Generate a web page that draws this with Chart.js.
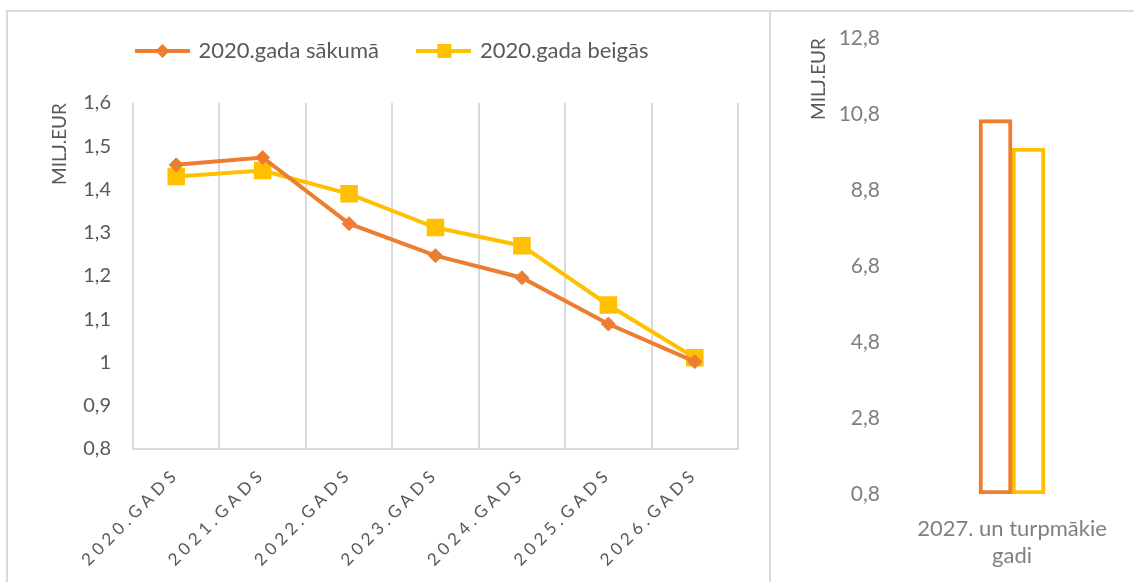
<!DOCTYPE html>
<html lang="lv">

<head>
  <meta charset="UTF-8" />
  <title>Prognoze 2020-2027</title>
  <script src="https://cdn.jsdelivr.net/npm/chart.js"></script>
  <style>
    body {
      margin: 0;
      background: #fff;
    }

    #kreisais {
      position: absolute;
      left: 6px;
      top: 10px;
      width: 765px;
      height: 572px;
      box-sizing: border-box;
      border-left: 2px solid #d9d9d9;
      border-top: 2px solid #d9d9d9;
      border-right: 2px solid #d9d9d9;
    }

    #labais {
      position: absolute;
      left: 771px;
      top: 10px;
      width: 363px;
      height: 572px;
      box-sizing: border-box;
      border-top: 2px solid #d9d9d9;
    }

    canvas {
      display: block;
    }
  </style>
</head>

<body>
  <div id="kreisais"><canvas id="gadiChart" width="761" height="570"></canvas></div>
  <div id="labais"><canvas id="turpmakChart" width="363" height="570"></canvas></div>

  <script>
    // Dati
    const gadi = ["2020.GADS", "2021.GADS", "2022.GADS", "2023.GADS", "2024.GADS", "2025.GADS", "2026.GADS"];
    const sakuma = [1.457, 1.474, 1.321, 1.247, 1.196, 1.089, 1.002];
    const beigas = [1.430, 1.444, 1.390, 1.312, 1.270, 1.133, 1.011];
    const serijas = ["2020.gada sākumā", "2020.gada beigās"];

    const turpmakGadi = [["2027. un turpmākie", "gadi"]];
    const turpmakSakuma = [10.65];
    const turpmakBeigas = [9.9];

    const oranzs = "#ED7D31";
    const dzeltens = "#FFC000";
    const teksts = "#595959";
    const gaisaks = "#7f7f7f";
    const pelekais = "#d9d9d9";

    Chart.defaults.font.family = "Lato, 'Open Sans', sans-serif";

    // 1,6 / 1 / 0,9 ...
    const komats = v => String(Number(v.toFixed(1))).replace(".", ",");

    // leģendas ikona: līnija ar marķieri
    function ikona(krasa, marker) {
      const c = document.createElement("canvas");
      c.width = 55;
      c.height = 18;
      const g = c.getContext("2d");
      g.strokeStyle = krasa;
      g.fillStyle = krasa;
      g.lineWidth = 4;
      g.beginPath();
      g.moveTo(0, 9);
      g.lineTo(55, 9);
      g.stroke();
      if (marker === "rect") {
        g.fillRect(21, 2, 14, 14);
      } else {
        g.beginPath();
        g.moveTo(27.5, 2);
        g.lineTo(34.5, 9);
        g.lineTo(27.5, 16);
        g.lineTo(20.5, 9);
        g.closePath();
        g.fill();
      }
      return c;
    }
    const ikonas = [ikona(oranzs, "diamond"), ikona(dzeltens, "rect")];

    // leģendas augstums/nobīde un atstarpe starp burtiem x asij
    const izkartojums = {
      id: "izkartojums",
      afterInit(chart, args, opts) {
        const leg = chart.legend;
        const fit = leg.fit;
        leg.fit = function () {
          fit.call(this);
          this.height = opts.legendHeight;
        };
        const draw = leg.draw;
        leg.draw = function (area) {
          this.ctx.save();
          this.ctx.translate(0, opts.legendShift);
          draw.call(this, area);
          this.ctx.restore();
        };
      },
      beforeDraw(chart, args, opts) {
        const s = chart.scales.x;
        if (s._atstarpe) return;
        const orig = s.drawLabels;
        s.drawLabels = function (area) {
          this.ctx.save();
          this.ctx.letterSpacing = opts.spacing;
          orig.call(this, area);
          this.ctx.restore();
        };
        s._atstarpe = true;
      }
    };

    new Chart(document.getElementById("gadiChart"), {
      type: "line",
      data: {
        labels: gadi,
        datasets: [
          {
            label: serijas[0],
            data: sakuma,
            borderColor: oranzs,
            backgroundColor: oranzs,
            borderWidth: 4,
            pointStyle: "rectRot",
            pointRadius: 7,
            pointBorderWidth: 1,
            pointBackgroundColor: oranzs,
            pointBorderColor: oranzs
          },
          {
            label: serijas[1],
            data: beigas,
            borderColor: dzeltens,
            backgroundColor: dzeltens,
            borderWidth: 4,
            pointStyle: "rect",
            pointRadius: 11,
            pointBorderWidth: 2,
            pointBackgroundColor: dzeltens,
            pointBorderColor: dzeltens
          }
        ]
      },
      options: {
        responsive: false,
        animation: false,
        layout: { padding: { left: 40, right: 31, top: 0, bottom: 0 } },
        plugins: {
          legend: {
            position: "top",
            labels: {
              usePointStyle: true,
              pointStyleWidth: 50,
              padding: 40,
              color: teksts,
              font: { size: 22 },
              generateLabels: chart => Chart.defaults.plugins.legend.labels.generateLabels(chart)
                .map((it, i) => ({ ...it, pointStyle: ikonas[i] }))
            }
          },
          tooltip: { enabled: false },
          izkartojums: { legendHeight: 91, legendShift: -12, spacing: "4.5px" }
        },
        scales: {
          x: {
            offset: true,
            grid: { offset: true, color: pelekais, lineWidth: 2, drawTicks: false },
            border: { color: pelekais, width: 2 },
            ticks: { color: teksts, font: { size: 17 }, minRotation: 45, maxRotation: 45, padding: 15 },
            afterFit: s => { s.height = 133; }
          },
          y: {
            min: 0.8,
            max: 1.6,
            ticks: { stepSize: 0.1, callback: komats, color: teksts, font: { size: 20 }, padding: 22 },
            grid: { display: false, drawTicks: false },
            border: { display: false },
            title: { display: true, text: "MILJ.EUR", align: "end", color: teksts, font: { size: 19 }, padding: 0 },
            afterFit: s => { s.width = 85; }
          }
        }
      },
      plugins: [izkartojums]
    });

    new Chart(document.getElementById("turpmakChart"), {
      type: "bar",
      data: {
        labels: turpmakGadi,
        datasets: [
          {
            label: serijas[0],
            data: turpmakSakuma,
            base: 0.8,
            backgroundColor: "#fff",
            borderColor: oranzs,
            borderWidth: 4,
            borderSkipped: false,
            barThickness: 33
          },
          {
            label: serijas[1],
            data: turpmakBeigas,
            base: 0.8,
            backgroundColor: "#fff",
            borderColor: dzeltens,
            borderWidth: 4,
            borderSkipped: false,
            barThickness: 33
          }
        ]
      },
      options: {
        responsive: false,
        animation: false,
        layout: { padding: { left: 36, right: 0, top: 26, bottom: 0 } },
        plugins: {
          legend: { display: false },
          tooltip: { enabled: false }
        },
        scales: {
          x: {
            grid: { display: false },
            border: { display: false },
            ticks: { color: gaisaks, font: { size: 22 }, padding: 14 },
            afterFit: s => { s.height = 88; }
          },
          y: {
            min: 0.8,
            max: 12.8,
            ticks: { stepSize: 2, callback: komats, color: gaisaks, font: { size: 21 }, padding: 10 },
            grid: { display: false, drawTicks: false },
            border: { display: false },
            title: { display: true, text: "MILJ.EUR", align: "end", color: teksts, font: { size: 19 }, padding: 0 },
            afterFit: s => { s.width = 83; }
          }
        }
      }
    });
  </script>
</body>

</html>
